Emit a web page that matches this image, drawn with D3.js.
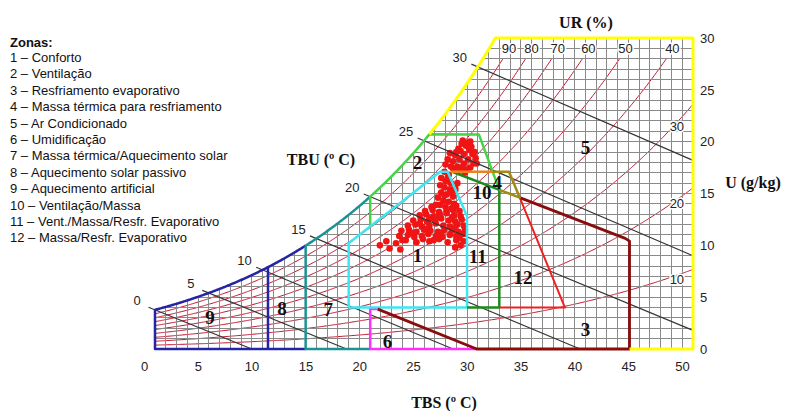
<!DOCTYPE html>
<html>
<head>
<meta charset="utf-8">
<script src="https://cdn.jsdelivr.net/npm/d3@7"></script>
<style>
  body { margin: 0; background: #fff; }
  svg { display: block; }
  .tick text { font-family: "Liberation Sans", Arial, sans-serif; font-size: 13px; fill: #222; }
</style>
</head>
<body>
<svg id="chart" width="786" height="411"></svg>
<script>
// Saturation vapour pressure of water (kPa), one value per degree from 0 to 50 °C
const satPressureKPa = [
  0.6113, 0.6571, 0.7060, 0.7581, 0.8135, 0.8726, 0.9354, 1.0021, 1.0730, 1.1482,
  1.2282, 1.3129, 1.4028, 1.4981, 1.5989, 1.7057, 1.8188, 1.9383, 2.0647, 2.1982,
  2.3392, 2.4881, 2.6452, 2.8109, 2.9856, 3.1697, 3.3637, 3.5679, 3.7828, 4.0089,
  4.2467, 4.4966, 4.7592, 5.0351, 5.3247, 5.6286, 5.9475, 6.2818, 6.6324, 6.9997,
  7.3844, 7.7873, 8.2090, 8.6503, 9.1118, 9.5944, 10.099, 10.627, 11.177, 11.752,
  12.352
];
const atmPressureKPa = 101.325;

// Axis ticks
const tbsTicks = [0, 5, 10, 15, 20, 25, 30, 35, 40, 45, 50];   // dry bulb, °C
const uTicks = [0, 5, 10, 15, 20, 25, 30];                     // humidity ratio, g/kg
const rhLevels = [10, 20, 30, 40, 50, 60, 70, 80, 90];         // relative humidity, %
const rhCurveTop = 28;                                          // g/kg where RH curves stop

// Wet bulb lines: temperature and where each line leaves the chart [TBS, U]
const wetBulbTemps = [0, 5, 10, 15, 20, 25, 30];
const wetBulbEnds = [[9.0, 0], [17.8, 0], [27.7, 0], [39.5, 0], [50, 1.8], [50, 9.0], [50, 18.2]];

// Zone boundaries in [TBS, U]; "sat" = on the saturation curve, ["sat", t] = follow it to t
const edgeAquecimento = [
  [[14, 0], [0, 0], [0, "sat"], ["sat", 14]],
  [[10.5, 0], [10.5, "sat"]]
];
const edgeMassaAquecimento = [
  [[14, "sat"], [14, 0], [20, 0]],
  [[14, "sat"], ["sat", 20]]
];
const edgeVentilacao = [[[20, 11.8], [20, "sat"], ["sat", 25.5], [30.1, 20.7], [32, 15.35]]];
const edgeConforto = [[[18, 4], [18, 10.2], [26.5, 17.1], [27.2, 17.1], [29, 12.8], [29, 4], [18, 4]]];
const edgeVentMassa = [[[29, 4], [32, 4], [32, 15.35], [27.5, 17.15]]];
const edgeLimiteMassa = [[[27.5, 17.1], [31.4, 17.1]]];
const edgeMassaResfr = [[[31.4, 17.1], [32.9, 17.1], [33.9, 14.6], [32, 15.35]]];
const edgeMassaEvap = [[[33.9, 14.6], [38.1, 4.0], [32, 4.0]]];
const edgeResfrEvap = [[[33.9, 14.6], [43.7, 10.67], [44.1, 10.4], [44.1, 0], [29.9, 0], [20.7, 3.85]]];
const edgeUmidificacao = [[[20.7, 3.85], [20, 3.85], [20, 0], [29.9, 0]]];
const edgeArCondicionado = [[[25.5, "sat"], ["sat", "top"], [50, 30], [50, 0], [44.1, 0]]];

// Zone numbers and the [TBS, U] spot where each is written
const zoneNumbers = ["1", "2", "3", "4", "5", "6", "7", "8", "9", "10", "11", "12"];
const zoneNumberAt = [
  [24.4, 9.0], [24.4, 18.0], [40.0, 1.9], [31.8, 16.1], [40.0, 19.4], [21.6, 0.7],
  [16.1, 3.8], [11.8, 3.9], [5.1, 3.0], [30.4, 15.1], [30.0, 8.9], [34.2, 6.9]
];

// Legend
const legendTitle = "Zonas:";
const zoneNames = [
  "Conforto", "Ventilação", "Resfriamento evaporativo", "Massa térmica para resfriamento",
  "Ar Condicionado", "Umidificação", "Massa térmica/Aquecimento solar", "Aquecimento solar passivo",
  "Aquecimento artificial", "Ventilação/Massa", "Vent./Massa/Resfr. Evaporativo", "Massa/Resfr. Evaporativo"
];

// Hourly climate records [TBS °C, U g/kg]
const climatePoints = [
  [27.7,18.1],[27.9,18.7],[28.2,19.3],[28.5,19.8],[28.9,19.6],[29.2,19.2],[29.5,18.8],[29.8,18.4],
  [29.6,17.9],[29.3,17.5],[28.9,17.3],[28.5,17.5],[28.1,17.6],[27.7,17.4],[28.3,18.3],[28.7,18.8],
  [29.1,18.3],[28.7,17.9],[28.0,19.0],[29.0,19.9],[29.4,19.5],[28.4,19.1],[27.5,17.6],[29.9,17.9],
  [28.3,17.2],[28.8,17.0],[29.7,19.0],[28.6,20.1],[29.3,20.0],[27.2,18.3],[27.4,18.9],[27.0,17.8],
  [26.9,17.1],[27.3,16.8],[26.6,16.5],[27.0,16.2],[27.5,16.0],[26.5,15.8],[26.9,15.6],[27.4,15.4],
  [26.6,15.1],[27.1,14.9],[27.7,14.7],[26.3,14.6],[26.8,14.3],[27.3,14.2],[27.8,14.0],[26.5,13.9],
  [27.0,13.7],[27.6,13.6],[27.2,16.5],[26.9,14.8],[27.4,15.1],[27.9,15.5],
  [23.3,10.5],[24.3,10.3],[25.5,10.4],[26.4,10.6],[27.2,10.3],[28.0,10.5],[28.7,10.4],
  [22.7,10.9],[23.5,11.0],[24.1,10.8],[24.8,10.9],[25.4,11.1],[26.1,10.9],[26.7,10.8],[27.4,11.0],[28.0,10.9],[28.6,11.1],
  [22.9,11.4],[23.6,11.5],[24.3,11.3],[25.0,11.5],[25.6,11.4],[26.3,11.3],[26.9,11.5],[27.6,11.4],[28.2,11.3],[28.8,11.5],
  [23.5,11.9],[24.2,12.0],[24.8,11.8],[25.5,11.9],[26.1,12.1],[26.8,11.9],[27.4,11.8],[28.1,12.0],[28.7,11.9],
  [24.0,12.4],[24.7,12.5],[25.3,12.3],[26.0,12.4],[26.6,12.6],[27.3,12.4],[27.9,12.3],[28.5,12.5],
  [24.6,12.9],[25.2,13.0],[25.9,12.8],[26.5,12.9],[27.1,13.1],[27.8,12.9],[28.4,12.8],
  [25.1,13.3],[25.8,13.4],[26.4,13.2],[27.1,13.3],[27.7,13.4],[28.3,13.3],
  [25.7,13.7],[26.1,13.9],[28.0,13.8],[23.9,11.2],[25.2,11.6],[26.6,11.2],[27.9,11.7],[24.6,12.1],
  [26.3,12.7],[27.6,12.7],[25.5,12.6],[23.0,10.5],[28.3,10.7],[25.9,10.5],[24.9,10.6],
  [20.9,10.0],[21.8,9.7],[22.4,10.2],[22.8,9.6],[27.9,9.8],[28.4,10.0],[21.5,10.4],[28.1,16.0],[27.9,15.3]
];

// ---------- drawing ----------
const svg = d3.select("#chart");
const x = d3.scaleLinear().domain([0, 50]).range([155, 693]);
const y = d3.scaleLinear().domain([0, 30]).range([349, 38]);
const uMax = y.domain()[1];
const tMax = x.domain()[1];

function pSat(t) {
  const tc = Math.max(0, Math.min(50, t));
  const i = Math.min(Math.floor(tc), 49), f = tc - i;
  return Math.exp(Math.log(satPressureKPa[i]) * (1 - f) + Math.log(satPressureKPa[i + 1]) * f);
}
function humidity(t, rh) { const pv = rh * pSat(t); return 622 * pv / (atmPressureKPa - pv); }
function wSat(t) { return humidity(t, 1); }

// dry bulb where the saturation curve meets the top of the chart
let lo = 20, hi = 45;
for (let k = 0; k < 50; k++) { const m = (lo + hi) / 2; if (wSat(m) < uMax) lo = m; else hi = m; }
const tTop = lo;

const samples = (a, b, step) => d3.range(a, b, step).concat([b]);
const satCurve = (a, b) => samples(a, b, 0.1).map(t => [t, wSat(t)]);
const line = d3.line().x(d => x(d[0])).y(d => y(d[1]));

const defs = svg.append("defs");
defs.append("clipPath").attr("id", "chartArea")
  .append("path")
  .attr("d", line([[0, 0], ...satCurve(0, tTop), [tMax, uMax], [tMax, 0]]) + "Z");

const plot = svg.append("g").attr("clip-path", "url(#chartArea)");

// relative humidity curves
const rhG = plot.append("g").attr("fill", "none").attr("stroke", "#c0142e").attr("stroke-width", 1);
const rhEnds = [];
rhLevels.forEach(rh => {
  const pts = [];
  let prev = 0;
  for (const t of samples(0, tMax, 0.1)) {
    const w = humidity(t, rh / 100);
    if (w > rhCurveTop) {
      let a = prev, b = t;
      for (let k = 0; k < 30; k++) { const m = (a + b) / 2; if (humidity(m, rh / 100) < rhCurveTop) a = m; else b = m; }
      pts.push([a, rhCurveTop]);
      break;
    }
    pts.push([t, w]);
    prev = t;
  }
  rhEnds.push(pts[pts.length - 1]);
  rhG.append("path").attr("d", line(pts));
});

// grid
const gridG = plot.append("g").attr("stroke", "#8a8a8a").attr("stroke-width", 1).attr("shape-rendering", "crispEdges");
d3.range(1, tMax).forEach(t => gridG.append("line")
  .attr("x1", x(t)).attr("x2", x(t)).attr("y1", y(0)).attr("y2", y(uMax)));
d3.range(1, uMax).forEach(u => gridG.append("line")
  .attr("x1", x(0)).attr("x2", x(tMax)).attr("y1", y(u)).attr("y2", y(u)));

// climate records
svg.append("g").attr("fill", "#f01414")
  .selectAll("circle").data(climatePoints).join("circle")
  .attr("cx", d => x(d[0])).attr("cy", d => y(d[1])).attr("r", 3.3);

// wet bulb lines with their labels
const wbG = svg.append("g");
wetBulbTemps.forEach((twb, i) => {
  const p0 = [x(twb), y(wSat(twb))];
  const p1 = [x(wetBulbEnds[i][0]), y(wetBulbEnds[i][1])];
  const len = Math.hypot(p1[0] - p0[0], p1[1] - p0[1]);
  const ux = (p1[0] - p0[0]) / len, uy = (p1[1] - p0[1]) / len;
  wbG.append("line")
    .attr("x1", p0[0] - ux * 7).attr("y1", p0[1] - uy * 7)
    .attr("x2", p1[0]).attr("y2", p1[1])
    .attr("stroke", "#353535").attr("stroke-width", 1.2);
  wbG.append("text")
    .attr("x", p0[0] - 18).attr("y", p0[1] - 9)
    .attr("text-anchor", "middle").attr("dominant-baseline", "central")
    .attr("font-family", "Liberation Sans, Arial, sans-serif").attr("font-size", 13).attr("fill", "#222")
    .text(twb);
});

// zone outlines
function resolve(steps) {
  const pts = [];
  let cur = null;
  steps.forEach(s => {
    if (s[0] === "sat") {
      const tEnd = s[1] === "top" ? tTop : s[1];
      satCurve(cur[0], tEnd).forEach(p => pts.push(p));
      cur = pts[pts.length - 1];
    } else {
      const p = [s[0], s[1] === "sat" ? wSat(s[0]) : s[1]];
      pts.push(p);
      cur = p;
    }
  });
  return pts;
}
const zoneEdges = [
  { edges: edgeAquecimento, color: "#2424a4", width: 2.5 },
  { edges: edgeMassaAquecimento, color: "#1c9292", width: 2.5 },
  { edges: edgeVentilacao, color: "#44d444", width: 2.5 },
  { edges: edgeUmidificacao, color: "#ff30ff", width: 2.5 },
  { edges: edgeConforto, color: "#3ce6f2", width: 2.5 },
  { edges: edgeVentMassa, color: "#1e8a1e", width: 2.5 },
  { edges: edgeMassaEvap, color: "#f02020", width: 2 },
  { edges: edgeResfrEvap, color: "#8a0c0c", width: 2.8 },
  { edges: edgeLimiteMassa, color: "#e8841c", width: 2.5 },
  { edges: edgeMassaResfr, color: "#a08c12", width: 2.5 },
  { edges: edgeArCondicionado, color: "#ffff00", width: 3 }
];
const zoneG = svg.append("g").attr("fill", "none").attr("stroke-linejoin", "round");
zoneEdges.forEach(z => z.edges.forEach(e => zoneG.append("path")
  .attr("d", line(resolve(e))).attr("stroke", z.color).attr("stroke-width", z.width)));

// zone numbers
svg.append("g").selectAll("text").data(zoneNumbers).join("text")
  .attr("x", (d, i) => x(zoneNumberAt[i][0])).attr("y", (d, i) => y(zoneNumberAt[i][1]))
  .attr("text-anchor", "middle").attr("dominant-baseline", "central")
  .attr("font-family", "Liberation Serif, Times New Roman, serif").attr("font-weight", "bold")
  .attr("font-size", 19).attr("fill", "#111")
  .text(d => d);

// relative humidity labels
const rhLabelG = svg.append("g")
  .attr("font-family", "Liberation Sans, Arial, sans-serif").attr("font-size", 13).attr("fill", "#222")
  .attr("text-anchor", "middle").attr("dominant-baseline", "central")
  .attr("stroke", "#fff").attr("stroke-width", 3).attr("paint-order", "stroke");
rhLevels.forEach((rh, i) => {
  if (rhEnds[i][1] >= rhCurveTop) {
    rhLabelG.append("text").attr("x", x(rhEnds[i][0]) + 6).attr("y", y(29)).text(rh);
  } else {
    rhLabelG.append("text").attr("x", x(48.5)).attr("y", y(humidity(48.5, rh / 100)) + 4).text(rh);
  }
});

// axes
const xAxis = svg.append("g").attr("transform", `translate(0,${y(0)})`)
  .call(d3.axisBottom(x).tickValues(tbsTicks).tickSize(0).tickPadding(13));
xAxis.select(".domain").remove();
xAxis.selectAll("text").attr("dx", -11);

const yAxis = svg.append("g").attr("transform", `translate(${x(tMax) + 2},0)`)
  .call(d3.axisRight(y).tickValues(uTicks).tickSize(0).tickPadding(5));
yAxis.select(".domain").remove();

// axis titles
const titleStyle = sel => sel
  .attr("font-family", "Liberation Serif, Times New Roman, serif").attr("font-weight", "bold")
  .attr("font-size", 16).attr("fill", "#111").attr("text-anchor", "middle").attr("dominant-baseline", "central");
svg.append("text").attr("x", 444).attr("y", 402).call(titleStyle).text("TBS (º C)");
svg.append("text").attr("x", 321).attr("y", 159).call(titleStyle).text("TBU (º C)");
svg.append("text").attr("x", 586).attr("y", 22).call(titleStyle).text("UR (%)");
svg.append("text").attr("x", 753).attr("y", 182).call(titleStyle).text("U (g/kg)");

// legend
const legend = svg.append("g").attr("font-family", "Liberation Sans, Arial, sans-serif")
  .attr("font-size", 13).attr("fill", "#111");
legend.append("text").attr("x", 10).attr("y", 47).attr("font-weight", "bold").text(legendTitle);
legend.selectAll("text.item").data(zoneNames).join("text").attr("class", "item")
  .attr("x", 10).attr("y", (d, i) => 62 + i * 16.4)
  .text((d, i) => `${i + 1} – ${d}`);
</script>
</body>
</html>
